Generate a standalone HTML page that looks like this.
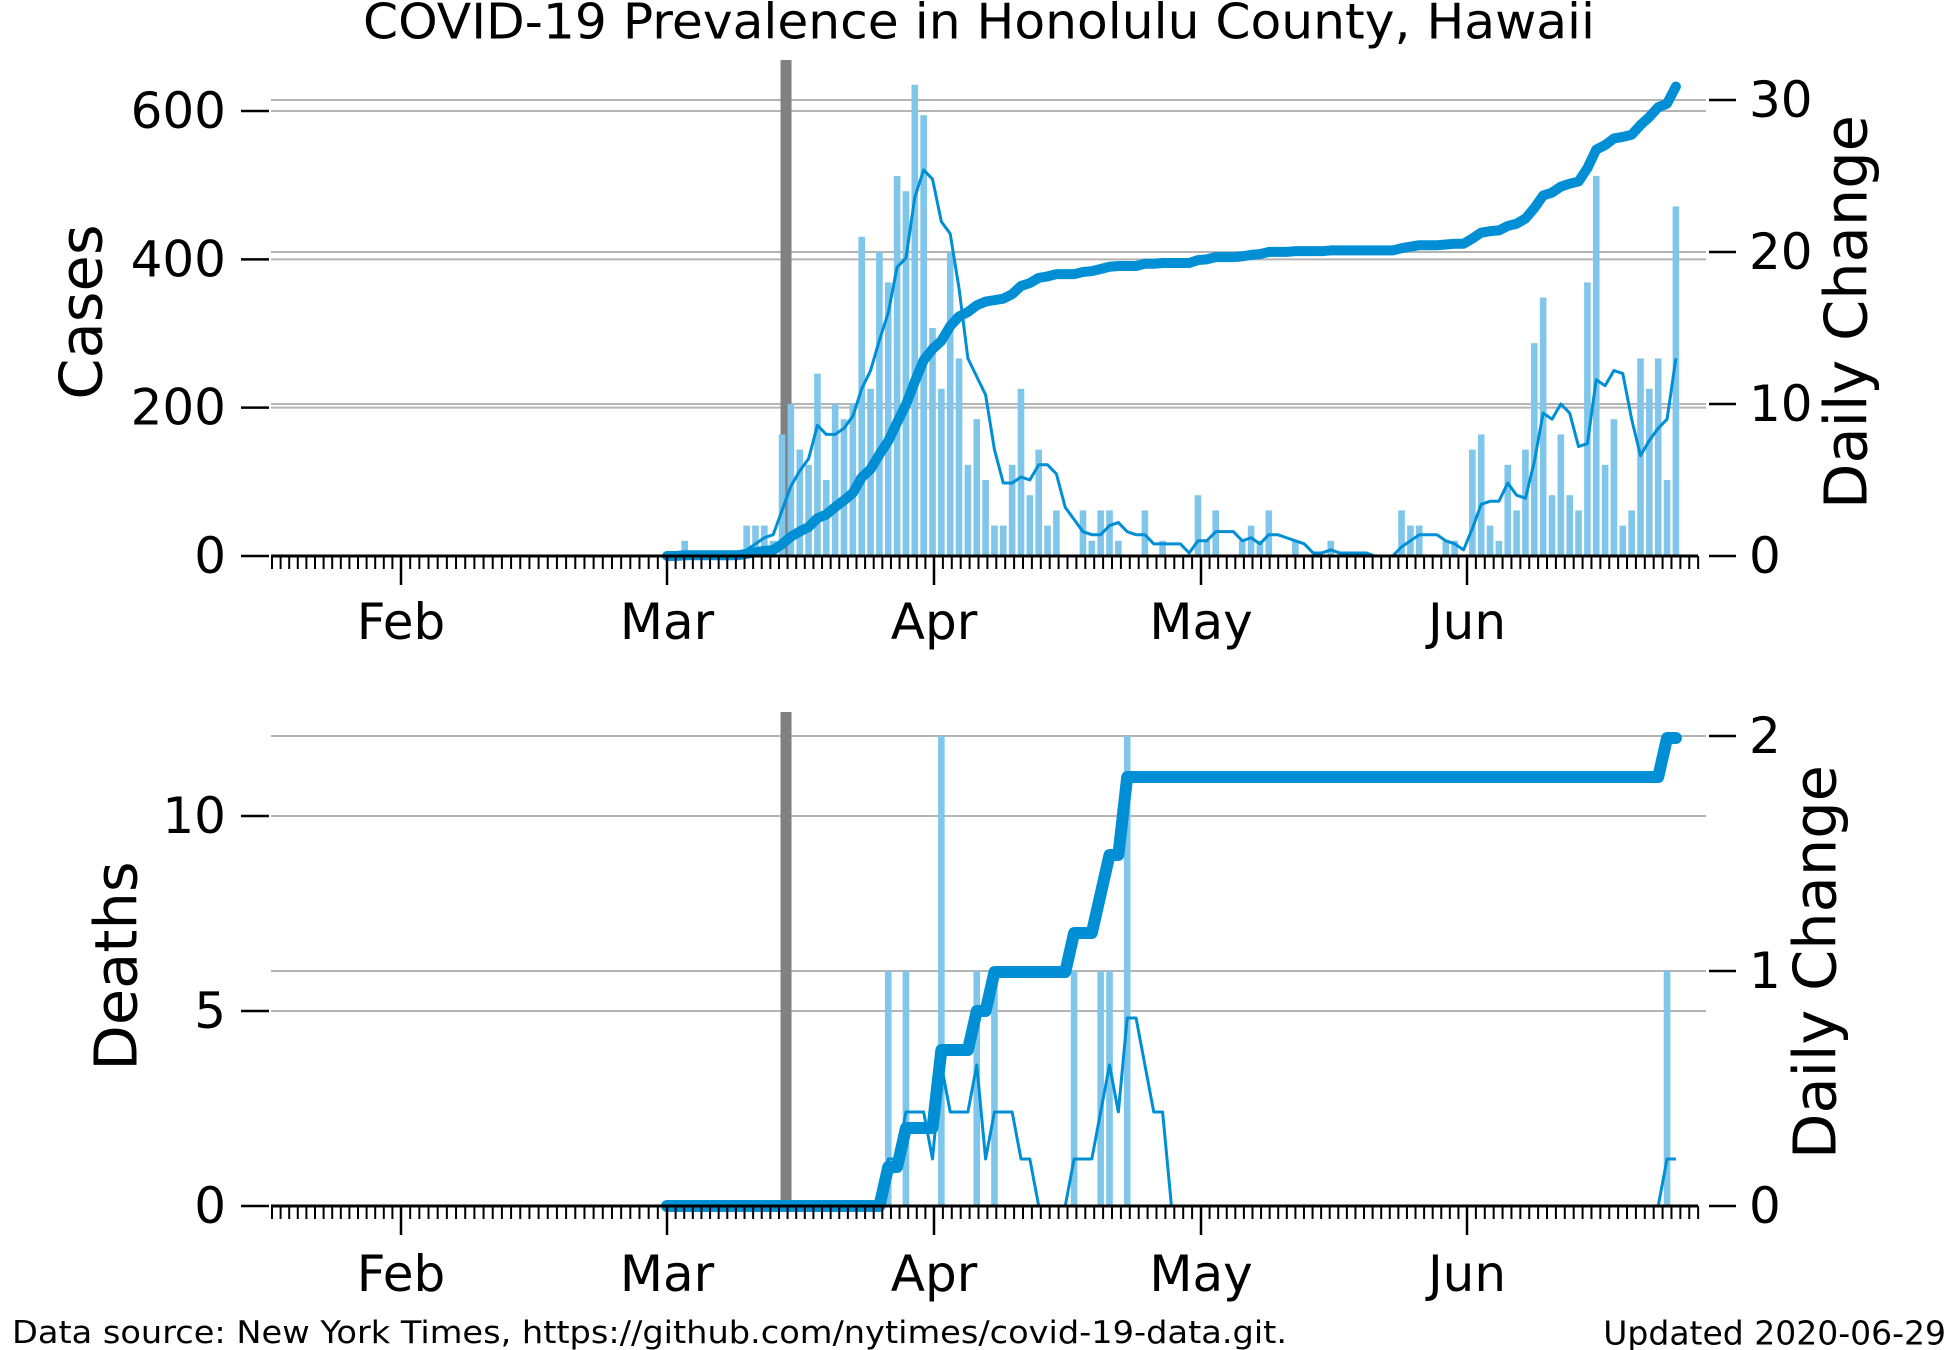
<!DOCTYPE html>
<html><head><meta charset="utf-8"><title>COVID-19 Honolulu</title>
<style>
html,body{margin:0;padding:0;background:#fff;}
svg{display:block;font-family:"DejaVu Sans","Liberation Sans",sans-serif;}
</style></head>
<body>
<svg id="chart" width="1950" height="1350" viewBox="0 0 1950 1350" xmlns="http://www.w3.org/2000/svg">
<rect x="0" y="0" width="1950" height="1350" fill="#fff"/>
<text x="979" y="22" font-size="49" text-anchor="middle" dominant-baseline="central" textLength="1232" lengthAdjust="spacingAndGlyphs">COVID-19 Prevalence in Honolulu County, Hawaii</text>
<g id="top"></g>
<g id="bot"></g>
<text x="12" y="1333" font-size="31" dominant-baseline="central" textLength="1275" lengthAdjust="spacingAndGlyphs">Data source: New York Times, https://github.com/nytimes/covid-19-data.git.</text>
<text x="1946" y="1333" font-size="33" text-anchor="end" dominant-baseline="central">Updated 2020-06-29</text>
</svg>
<script>
// ---- data (day index 0 = Mar 1, 2020) ----
const caseDays = [2,9,10,11,12,13,14,15,16,17,18,19,20,21,22,23,24,25,26,27,28,29,30,31,32,33,34,35,36,37,38,39,40,41,42,43,44,47,48,49,50,51,54,56,60,61,62,65,66,67,68,71,75,83,84,85,88,89,91,92,93,94,95,96,97,98,99,100,101,102,103,104,105,106,107,108,109,110,111,112,113,114];
const caseNew  = [1,2,2,2,1,8,10,7,6,12,5,10,9,10,21,11,20,18,25,24,31,29,15,11,20,13,6,9,5,2,2,6,11,4,7,2,3,3,1,3,3,1,3,1,4,1,3,1,2,1,3,1,1,3,2,2,1,1,7,8,2,1,6,3,7,14,17,4,8,4,3,18,25,6,9,2,3,13,11,13,5,23];
const deathDays = [25,27,31,35,37,46,49,50,52,113];
const deathNew  = [1,1,2,1,1,1,1,1,2,1];
const nDays = 115;
const eventDay = 13.45;
const monthLabels = ["Feb","Mar","Apr","May","Jun"];
const monthLengths = [29,31,30,31,30];
const caseLeftTicks = [0,200,400,600];
const caseRightTicks = [0,10,20,30];
const deathLeftTicks = [0,5,10];
const deathRightTicks = [0,1,2];

const NS="http://www.w3.org/2000/svg";
const BLUE="#008fd5", BAR="#7fc6ea", GRID="#b4b4b4";
function el(tag,attrs,parent){const e=document.createElementNS(NS,tag);for(const k in attrs)e.setAttribute(k,attrs[k]);parent.appendChild(e);return e;}

const X0=271, X1=1706;
const xDay = d => 667 + d*8.85;
const monthTickX = [401,667,934,1201,1467];

function series(days,vals){const a=new Array(nDays).fill(0);days.forEach((d,i)=>{a[d]+=vals[i];});return a;}
function cumsum(a){let s=0;return a.map(v=>s+=v);}
function roll5(a){return a.map((v,i)=>{let s=0;for(let k=i-4;k<=i;k++)if(k>=0)s+=a[k];return s/5;});}

function panel(g,cfg){
  const {zero,top,yL,yR,leftTicks,rightTicks,daily,ylabel,ylabelX,ylabelY,rlabelX,rlabelY,labelY,name,thick} = cfg;
  leftTicks.forEach(v=>{ if(v===0) return;
    const l=el('line',{x1:X0,x2:X1,y1:yL(v),y2:yL(v),stroke:GRID,'stroke-width':2},g);
    
    
  });
  rightTicks.forEach(v=>{ if(v===0) return;
    const l=el('line',{x1:X0,x2:X1,y1:yR(v),y2:yR(v),stroke:GRID,'stroke-width':2},g);
    
    
  });
  const ev=el('rect',{x:xDay(eventDay)-5.5,y:top,width:11,height:zero-top,fill:'#808080'},g);
  
  
  daily.forEach((v,i)=>{ if(v<=0) return;
    const b=el('rect',{x:xDay(i)-3.3,y:yR(v),width:6.6,height:zero-yR(v),fill:BAR},g);
    
    
  });
  const r=roll5(daily);
  const rp=el('polyline',{points:r.map((v,i)=>xDay(i)+','+yR(v)).join(' '),fill:'none',stroke:BLUE,'stroke-width':3,'stroke-linejoin':'round'},g);
  
  
  const c=cumsum(daily);
  const cp=el('polyline',{points:c.map((v,i)=>xDay(i)+','+yL(v)).join(' '),fill:'none',stroke:BLUE,'stroke-width':thick,'stroke-linejoin':'round','stroke-linecap':'round'},g);
  
  
  const ax=el('line',{x1:X0,x2:X1-8,y1:zero,y2:zero,stroke:'#000','stroke-width':3},g);
  
  
  const minor=[];
  for(let x=monthTickX[0]-8.6;x>=X0-1;x-=8.6) minor.push(x);
  for(let m=0;m<monthTickX.length-1;m++){const step=(monthTickX[m+1]-monthTickX[m])/monthLengths[m];for(let k=1;k<monthLengths[m];k++)minor.push(monthTickX[m]+k*step);}
  for(let x=monthTickX[4]+8.89;x<=1699;x+=8.89) minor.push(x);
  minor.forEach(x=>{const t=el('line',{x1:x,x2:x,y1:zero,y2:zero+13,stroke:'#000','stroke-width':2},g);
    
    });
  monthTickX.forEach((x,i)=>{
    const t=el('line',{x1:x,x2:x,y1:zero,y2:zero+29,stroke:'#000','stroke-width':2.5},g);
    
    
    const tx=el('text',{x:x,y:labelY,'font-size':50,'text-anchor':'middle','dominant-baseline':'central'},g);
    tx.textContent=monthLabels[i];
    
    
  });
  leftTicks.forEach(v=>{
    const t=el('line',{x1:241,x2:269,y1:yL(v),y2:yL(v),stroke:'#000','stroke-width':2.5},g);
    
    
    const tx=el('text',{x:226,y:yL(v),'font-size':50,'text-anchor':'end','dominant-baseline':'central'},g);
    tx.textContent=v;
    
    
  });
  rightTicks.forEach(v=>{
    const t=el('line',{x1:1709,x2:1736,y1:yR(v),y2:yR(v),stroke:'#000','stroke-width':2.5},g);
    
    
    const tx=el('text',{x:1749,y:yR(v),'font-size':50,'text-anchor':'start','dominant-baseline':'central'},g);
    tx.textContent=v;
    
    
  });
  const yl=el('text',{x:ylabelX,y:ylabelY,'font-size':59,'text-anchor':'middle','dominant-baseline':'central',transform:`rotate(-90 ${ylabelX} ${ylabelY})`},g);
  yl.textContent=ylabel;
  
  
  const rl=el('text',{x:rlabelX,y:rlabelY,'font-size':59,'text-anchor':'middle','dominant-baseline':'central',transform:`rotate(-90 ${rlabelX} ${rlabelY})`},g);
  rl.textContent='Daily Change';
  
  
}

panel(document.getElementById('top'),{
  zero:556, top:60,
  yL:v=>556-v*445/600, yR:v=>556-v*15.2,
  leftTicks:caseLeftTicks, rightTicks:caseRightTicks,
  daily:series(caseDays,caseNew),
  ylabel:'Cases', ylabelX:81, ylabelY:312, rlabelX:1846, rlabelY:312,
  labelY:622, name:'cases', thick:10
});
panel(document.getElementById('bot'),{
  zero:1206, top:712,
  yL:v=>1206-v*39,
  yR:v=>1206-v*235,
  leftTicks:deathLeftTicks, rightTicks:deathRightTicks,
  daily:series(deathDays,deathNew),
  ylabel:'Deaths', ylabelX:116, ylabelY:966, rlabelX:1815, rlabelY:962,
  labelY:1274, name:'deaths', thick:12
});
</script>
</body></html>
